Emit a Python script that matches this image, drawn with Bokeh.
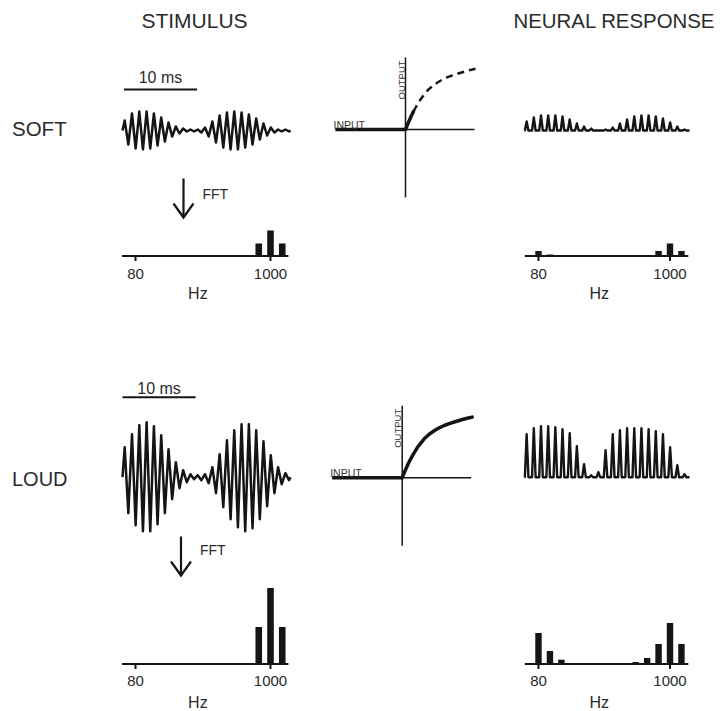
import numpy as np
from bokeh.plotting import figure
from bokeh.models import Range1d
from bokeh.core.properties import value
from bokeh.embed import file_html
from bokeh.resources import INLINE

# ---------------- data ----------------
# stimulus waveform: positive / negative extreme of each 1 ms carrier cycle
stim_peaks_soft = [10, 17, 19, 19, 17, 13, 8, 4, 2, 1, 1, 3, 9, 15, 18, 19, 18, 16, 12, 7, 3, 1, 1]
stim_troughs_soft = [-14, -18, -19, -18, -15, -11, -6, -3, -1, -1, -2, -6, -12, -17, -19, -19, -17, -14, -9, -5, -2, -1, -1]
stim_peaks_loud = [30, 43, 52, 55, 51, 42, 28, 15, 7, 3, 2, 3, 10, 23, 37, 47, 53, 53, 47, 36, 22, 10, 4]
stim_troughs_loud = [-36, -48, -54, -54, -47, -36, -22, -11, -5, -2, -3, -6, -16, -30, -42, -50, -54, -51, -42, -29, -16, -7, -3]

# neural response: height of the rectified peak in each 1 ms cycle
neural_peaks_soft = [9, 13, 15, 15, 15, 14, 11, 7, 4, 2, 0, 1, 3, 7, 11, 14, 15, 15, 14, 12, 8, 4, 1]
neural_peaks_loud = [43, 49, 51, 51, 50, 48, 44, 31, 13, 2, 5, 27, 43, 47, 49, 49, 49, 48, 46, 43, 30, 12, 3]

# spectra (Hz, relative amplitude)
stim_freqs = [920, 1000, 1080]
stim_spec_soft = [12.4, 25.4, 12.4]
stim_spec_loud = [37, 76, 37]
neural_freqs_soft = [80, 160, 920, 1000, 1080]
neural_spec_soft = [5, 1.5, 5, 12.5, 5]
neural_freqs_loud = [80, 160, 240, 760, 840, 920, 1000, 1080]
neural_spec_loud = [31, 13, 4.3, 2, 6, 20, 41, 20]
freq_ticks = [80, 1000]
freq_tick_labels = ["80", "1000"]

# compressive input/output function
nl_input = [0, 2, 4, 6, 8, 11, 15, 18, 22, 27, 32, 37, 42, 47, 52, 57, 62, 66, 70]
nl_output = [0, 5, 9.5, 14, 18, 23.5, 30, 34, 39, 43.5, 47, 50, 52.3, 54.2, 55.8, 57.3, 58.8, 59.8, 60.7]
soft_input_max = 8

scale_bar_ms = 10

# ---------------- figure ----------------
FONT = "Liberation Sans"
INK = "#151515"
TXT = "#2a2a2a"
W, H = 725, 711
X0, Y0 = 0, 0  # base coordinates match the reference pixels

p = figure(width=W, height=H, x_range=Range1d(X0, X0 + W), y_range=Range1d(Y0 + H, Y0),
           output_backend="svg", toolbar_location=None, min_border=0,
           x_axis_location=None, y_axis_location=None)
p.xgrid.visible = False
p.ygrid.visible = False
p.outline_line_color = None
p.background_fill_color = "white"
p.border_fill_color = "white"


def mapped(d0, d1, s0, s1, lo, hi):
    k = (d1 - d0) / (s1 - s0)
    return Range1d(start=d0 + (lo - s0) * k, end=d0 + (hi - s0) * k)


def xr(d0, d1, s0, s1):
    return mapped(d0, d1, s0, s1, X0, X0 + W)


def yr(d0, d1, s0, s1):
    return mapped(d0, d1, s0, s1, Y0 + H, Y0)


p.extra_x_ranges = {
    "t_stim": xr(0, 23, 122, 290),
    "t_neu": xr(0, 23, 524, 689),
    "f_stim": xr(80, 1000, 135, 270),
    "f_neu": xr(80, 1000, 538, 669.5),
    "nl_soft": xr(0, 70, 405, 475),
    "nl_loud": xr(0, 70, 401.7, 471.7),
}
p.extra_y_ranges = {
    "a_soft": yr(0, 50, 130, 80),
    "a_loud": yr(0, 50, 476.7, 426.7),
    "s_soft": yr(0, 50, 255.5, 205.5),
    "s_loud": yr(0, 50, 663.5, 613.5),
    "nl_soft": yr(0, 50, 129, 79),
    "nl_loud": yr(0, 50, 477.3, 427.3),
}


def txt(x, y, s, size, xname=None, yname=None, align="center", baseline="middle", angle=0, color=TXT):
    kw = {}
    if xname:
        kw["x_range_name"] = xname
    if yname:
        kw["y_range_name"] = yname
    p.text(x=x if isinstance(x, list) else [x], y=y if isinstance(y, list) else [y],
           text=s if isinstance(s, list) else [s],
           text_font=value(FONT), text_font_size=f"{size}px", text_align=align,
           text_baseline=baseline, angle=angle, text_color=color, **kw)


# titles and row labels
txt(194, 20, "STIMULUS", 21)
txt(513, 20, "NEURAL RESPONSE", 20.4, align="left")
txt(11.5, 128, "SOFT", 20.5, align="left")
txt(11.5, 478, "LOUD", 20, align="left")


# ---------------- stimulus waveforms ----------------
def stim_trace(peaks, troughs):
    n = len(peaks)
    k = np.arange(n)
    t = np.column_stack([k + 0.3, k + 0.8]).ravel()
    a = np.column_stack([peaks, troughs]).ravel()
    return np.concatenate([[0.0], t, [float(n)]]), np.concatenate([[0.0], a, [0.0]])


for peaks, troughs, yname, bar_start, bar_y, lab_y in [
    (stim_peaks_soft, stim_troughs_soft, "a_soft", 0.2, 41, 53),
    (stim_peaks_loud, stim_troughs_loud, "a_loud", 0.0, 80, 89),
]:
    t, a = stim_trace(peaks, troughs)
    p.line(t, a, x_range_name="t_stim", y_range_name=yname, line_color=INK, line_width=2.5,
           line_join="round")
    p.segment(x0=[bar_start], y0=[bar_y], x1=[bar_start + scale_bar_ms], y1=[bar_y],
              x_range_name="t_stim", y_range_name=yname, line_color=INK, line_width=2)
    txt(bar_start + scale_bar_ms / 2, lab_y, f"{scale_bar_ms} ms", 16, "t_stim", yname)


# ---------------- neural waveforms ----------------
def neural_trace(peaks):
    n = len(peaks)
    k = np.arange(n)
    t = np.column_stack([k + 0.05, k + 0.3, k + 0.55]).ravel()
    a = np.column_stack([np.zeros(n), peaks, np.zeros(n)]).ravel()
    return np.concatenate([[0.0], t, [float(n)]]), np.concatenate([[0.0], a, [0.0]])


for peaks, yname in [(neural_peaks_soft, "a_soft"), (neural_peaks_loud, "a_loud")]:
    t, a = neural_trace(peaks)
    p.line(t, a, x_range_name="t_neu", y_range_name=yname, line_color=INK, line_width=2.4,
           line_join="round")

# ---------------- FFT arrows ----------------
for ax, top, tip, fy in [(183, 178, 217, 193), (180.5, 536, 575, 549)]:
    p.multi_line(xs=[[ax, ax], [ax - 10, ax, ax + 10]],
                 ys=[[top, tip - 1], [tip - 14, tip, tip - 14]],
                 line_color=INK, line_width=2.2, line_join="miter")
    txt(ax + 19, fy, "FFT", 14, align="left")


# ---------------- spectra ----------------
def spectrum(freqs, amps, xname, yname, lo, hi, lab_y, hz_y):
    p.segment(x0=[lo], y0=[0], x1=[hi], y1=[0], x_range_name=xname, y_range_name=yname,
              line_color=INK, line_width=2)
    p.segment(x0=freq_ticks, y0=[0] * len(freq_ticks), x1=freq_ticks, y1=[-5] * len(freq_ticks),
              x_range_name=xname, y_range_name=yname, line_color=INK, line_width=2)
    p.vbar(x=freqs, top=amps, bottom=0, width=45, x_range_name=xname, y_range_name=yname,
           fill_color=INK, line_color=None)
    txt(freq_ticks, [lab_y] * len(freq_ticks), freq_tick_labels, 15, xname, yname)
    txt(505, hz_y, "Hz", 16, xname, yname)


spectrum(stim_freqs, stim_spec_soft, "f_stim", "s_soft", -12, 1122, -17.5, -37)
spectrum(stim_freqs, stim_spec_loud, "f_stim", "s_loud", -12, 1122, -16.5, -38)
spectrum(neural_freqs_soft, neural_spec_soft, "f_neu", "s_soft", -16, 1128, -17.5, -37)
spectrum(neural_freqs_loud, neural_spec_loud, "f_neu", "s_loud", -16, 1128, -16.5, -38)

# ---------------- input/output functions ----------------
nl_in = np.array(nl_input, dtype=float)
nl_out = np.array(nl_output, dtype=float)
for name, dashed in [("nl_soft", True), ("nl_loud", False)]:
    kw = dict(x_range_name=name, y_range_name=name)
    # axes
    p.segment(x0=[-70, 0], y0=[0, -68], x1=[69, 0], y1=[0, 72], line_color=INK, line_width=1.5, **kw)
    # zero output for negative input
    p.segment(x0=[-70], y0=[0], x1=[0], y1=[0], line_color=INK, line_width=3.5, **kw)
    if dashed:
        m = nl_in <= soft_input_max
        p.line(nl_in[m], nl_out[m], line_color=INK, line_width=3.5, line_cap="round", **kw)
        rest = nl_in >= soft_input_max
        p.line(nl_in[rest], nl_out[rest], line_color=INK, line_width=2.5, line_dash="7 5", **kw)
    else:
        p.line(nl_in, nl_out, line_color=INK, line_width=3.5, line_join="round", line_cap="round", **kw)
    txt(-72, 4.7, "INPUT", 10.5, name, name, align="left", baseline="alphabetic", color="#333333")
    txt(-4.5, 30, "OUTPUT", 9.5, name, name, align="left", baseline="alphabetic",
        angle=np.pi / 2, color="#333333")

open("out.html", "w").write(file_html(p, INLINE))
